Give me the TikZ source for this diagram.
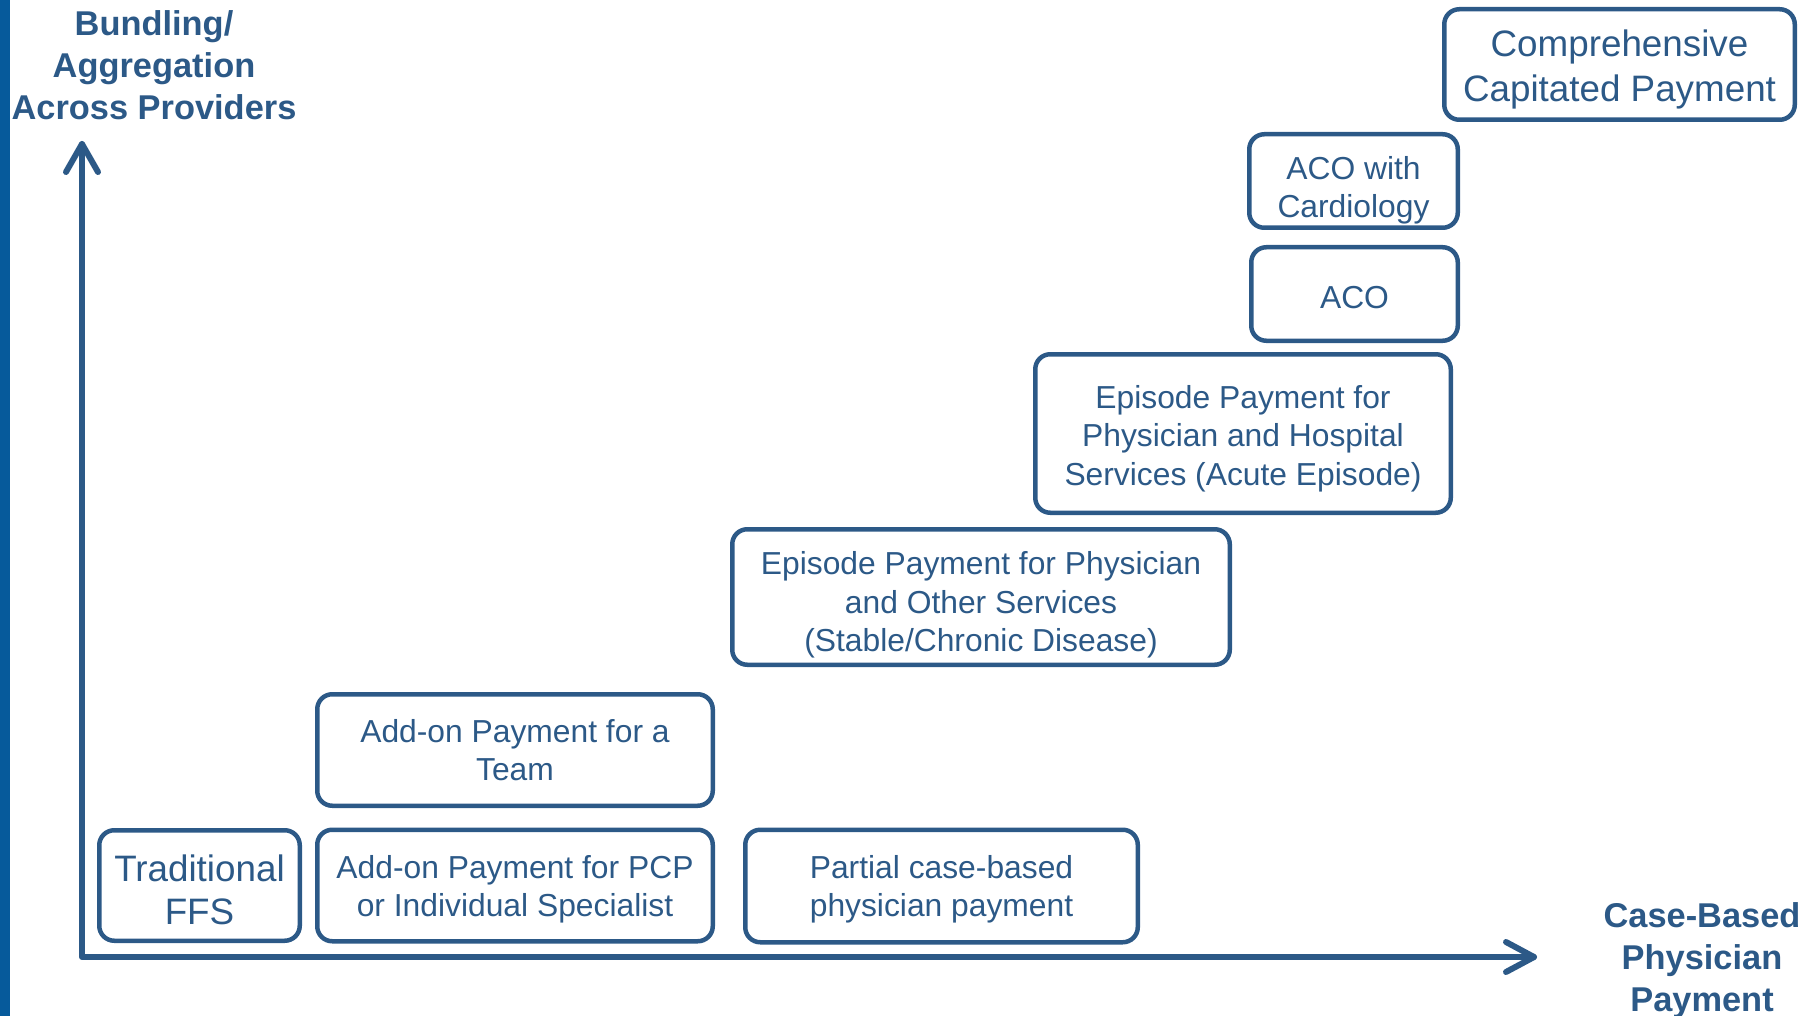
\documentclass[tikz,border=0pt]{standalone}
\usepackage{fontspec}
\setmainfont{Liberation Sans}
\definecolor{navy}{HTML}{2C5987}
\definecolor{barblue}{HTML}{065A9B}
\tikzset{
  box/.style={draw=navy, line width=4.5pt, rounded corners=15pt, inner sep=0pt},
  boxtext/.style={text=navy, align=center, inner sep=0pt},
  smalltext/.style={font=\fontsize{31.8}{38.3}\selectfont},
  bigtext/.style={font=\fontsize{36.8}{43}\selectfont},
  axislabel/.style={text=navy, align=center, inner sep=0pt,
                    font=\fontsize{34.4}{42}\selectfont\bfseries},
  axisline/.style={draw=navy, line width=6pt, line cap=round, line join=round},
}
\begin{document}
\begin{tikzpicture}[x=1pt, y=-1pt]
\useasboundingbox (0,0) rectangle (1819,1016);
\fill[barblue] (0,0) rectangle (10,1016);

% axes
\coordinate (origin) at (82,957);
\coordinate (ytip) at (82,144);
\coordinate (xtip) at (1534,957);
\draw[axisline] (ytip) -- (origin) -- (xtip);
\draw[axisline] (66,172) -- (ytip) -- (98,172);
\draw[axisline] (1506,942) -- (xtip) -- (1506,972);

% axis labels
\node[axislabel] (ylab) at (154,65) {Bundling/\\Aggregation\\Across Providers};
\node[axislabel] (xlab) at (1702,961) {Case-Based\\Physician\\Payment};

% boxes
\node[box, minimum width=200.5pt, minimum height=110.5pt] (ffs) at (199.5,885.5) {};
\node[boxtext, bigtext, yshift=-4pt] (ffs-t) at (ffs.center) {Traditional\\FFS};

\node[box, minimum width=395.5pt, minimum height=111.5pt] (pcp) at (515,885.5) {};
\node[boxtext, smalltext, yshift=-3.5pt] (pcp-t) at (pcp.center) {Add-on Payment for PCP\\or Individual Specialist};

\node[box, minimum width=395.5pt, minimum height=111.5pt] (team) at (515,750) {};
\node[boxtext, smalltext] (team-t) at (team.center) {Add-on Payment for a\\Team};

\node[box, minimum width=392.5pt, minimum height=112.5pt] (partial) at (941.5,886) {};
\node[boxtext, smalltext, yshift=-3.5pt] (partial-t) at (partial.center) {Partial case-based\\physician payment};

\node[box, minimum width=497.5pt, minimum height=135.5pt] (stable) at (981,597) {};
\node[boxtext, smalltext, yshift=-8pt] (stable-t) at (stable.center) {Episode Payment for Physician\\and Other Services\\(Stable/Chronic Disease)};

\node[box, minimum width=415.5pt, minimum height=158.5pt] (acute) at (1243,433.5) {};
\node[boxtext, smalltext, yshift=-5pt] (acute-t) at (acute.center) {Episode Payment for\\Physician and Hospital\\Services (Acute Episode)};

\node[box, minimum width=206.5pt, minimum height=93.5pt] (aco) at (1354.5,294) {};
\node[boxtext, smalltext, yshift=-3.5pt] (aco-t) at (aco.center) {ACO};

\node[box, minimum width=208.5pt, minimum height=93.5pt] (acocard) at (1353.5,181) {};
\node[boxtext, smalltext, yshift=-9pt] (acocard-t) at (acocard.center) {ACO with\\Cardiology};

\node[box, minimum width=350.5pt, minimum height=110.5pt] (comp) at (1619.5,64.5) {};
\node[boxtext, font=\fontsize{36.8}{45}\selectfont, yshift=-4.5pt] (comp-t) at (comp.center) {Comprehensive\\Capitated Payment};
\end{tikzpicture}
\end{document}
